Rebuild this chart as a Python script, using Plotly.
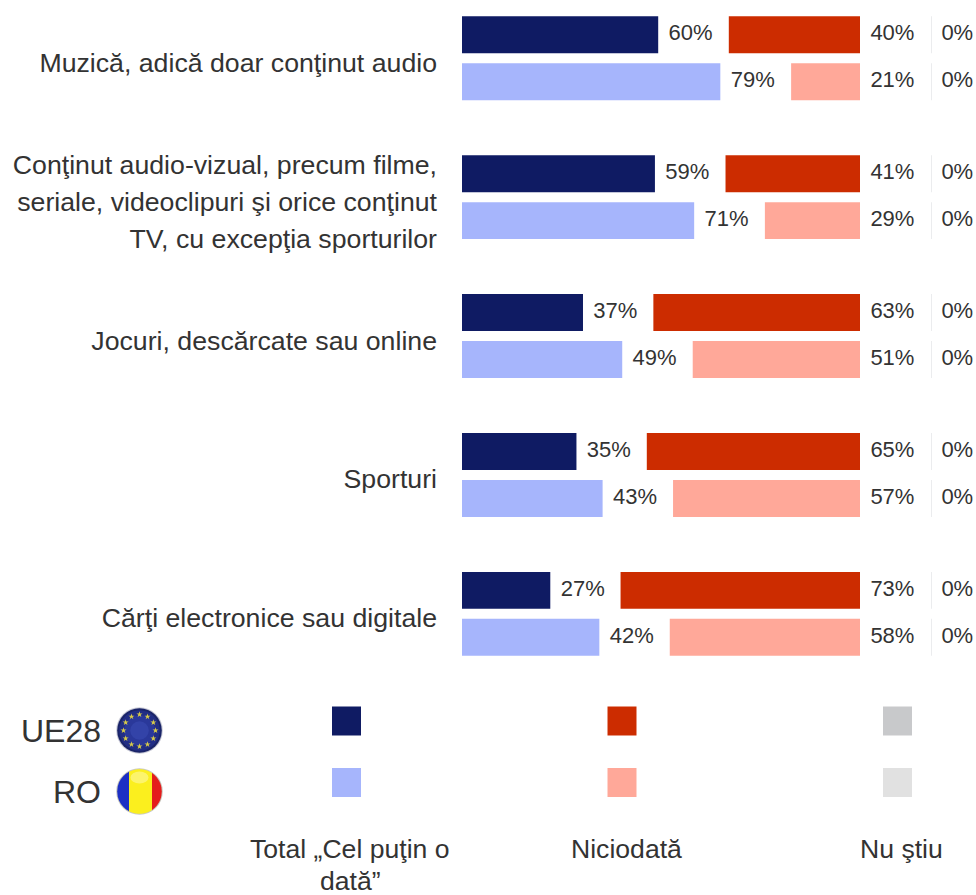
import math
import plotly.graph_objects as go

category_lines = [["Muzică, adică doar conţinut audio"],
                  ["Conţinut audio-vizual, precum filme,", "seriale, videoclipuri şi orice conţinut",
                   "TV, cu excepţia sporturilor"],
                  ["Jocuri, descărcate sau online"],
                  ["Sporturi"],
                  ["Cărţi electronice sau digitale"]]
ue_total = [60, 59, 37, 35, 27]
ro_total = [79, 71, 49, 43, 42]
ue_never = [40, 41, 63, 65, 73]
ro_never = [21, 29, 51, 57, 58]
ue_dk = [0, 0, 0, 0, 0]
ro_dk = [0, 0, 0, 0, 0]

W, H = 976, 895
FONT = "Liberation Sans"
TXT = "#333333"
C_UE, C_RO = "#0F1B63", "#A6B5FC"
R_UE, R_RO = "#CC2C00", "#FFA899"
G_UE, G_RO = "#C8C9CB", "#E1E1E1"
LINE = "#E4E6E8"
PCT_SIZE = 22
CAT_SIZE = 26.7
LEG_SIZE = 26.6

groups = list(range(len(category_lines)))
y_ue = [g - 0.169 for g in groups]
y_ro = [g + 0.169 for g in groups]
BW = 0.266
LINE_STEP = 37 / 138.9
pct = lambda v: [f"{x}%" for x in v]

tickvals, ticktext = [], []
for g, lines in zip(groups, category_lines):
    for i, t in enumerate(lines):
        tickvals.append(g + 0.03 + (i - (len(lines) - 1) / 2) * LINE_STEP)
        ticktext.append(t)

fig = go.Figure()


def bars(x, y, c, xaxis):
    fig.add_trace(go.Bar(x=x, y=y, orientation="h", width=BW, marker=dict(color=c, line=dict(width=0)),
                         xaxis=xaxis, yaxis="y", hoverinfo="skip"))


def labels(x_pos, vals, y, xaxis, **extra):
    # transparent marker pushes the text away from the bar end
    fig.add_trace(go.Scatter(x=x_pos, y=y, mode="markers+text", text=pct(vals), textposition="middle right",
                             cliponaxis=False, xaxis=xaxis, yaxis="y", hoverinfo="skip",
                             marker=dict(size=15, opacity=0, color="white"),
                             textfont=dict(family=FONT, size=PCT_SIZE, color=TXT), **extra))


bars(ue_total, y_ue, C_UE, "x")
bars(ro_total, y_ro, C_RO, "x")
bars(ue_never, y_ue, R_UE, "x2")
bars(ro_never, y_ro, R_RO, "x2")
labels(ue_total, ue_total, y_ue, "x")
labels(ro_total, ro_total, y_ro, "x")
labels([0] * 5, ue_never, y_ue, "x2")
labels([0] * 5, ro_never, y_ro, "x2")
whisker = dict(type="constant", value=BW / 2, color=LINE, thickness=1.5, width=0)
labels(ue_dk, ue_dk, y_ue, "x3", error_y=whisker)
labels(ro_dk, ro_dk, y_ro, "x3", error_y=whisker)

# EU flag stars, drawn in a full-page pixel axis
CX, CY1, CY2, R = 139.5, 730.5, 791.5, 23.3
star_x = [CX + 16 * math.cos(math.radians(a)) for a in range(0, 360, 30)]
star_y = [CY1 + 16 * math.sin(math.radians(a)) for a in range(0, 360, 30)]
fig.add_trace(go.Scatter(x=star_x, y=star_y, mode="markers", xaxis="x4", yaxis="y2", hoverinfo="skip",
                         marker=dict(symbol="star", size=4.5, color="#D8CB4A", line=dict(width=0))))

shapes = []


def pix(**k):
    return dict(xref="x4", yref="y2", layer="below", line=dict(width=0), **k)


for cx, cols in ((346.5, (C_UE, C_RO)), (622, (R_UE, R_RO)), (897.5, (G_UE, G_RO))):
    for cy, c in zip((721, 782.5), cols):
        shapes.append(pix(type="rect", x0=cx - 14.5, x1=cx + 14.5, y0=cy - 14.5, y1=cy + 14.5, fillcolor=c))

# EU disc
for r, c in ((R, "#C9CAD6"), (R - 1, "#1A2468"), (R - 3, "#222E85"), (R - 8, "#2A389A"), (R - 14, "#3343A8")):
    shapes.append(pix(type="circle", x0=CX - r, x1=CX + r, y0=CY1 - r, y1=CY1 + r, fillcolor=c))


def band(xa, xb, c, r):
    # circular-segment strip of the Romanian flag
    pts = []
    n = 24
    for i in range(n + 1):
        x = xa + (xb - xa) * i / n
        pts.append((x, CY2 - math.sqrt(max(r * r - (x - CX) ** 2, 0))))
    for i in range(n, -1, -1):
        x = xa + (xb - xa) * i / n
        pts.append((x, CY2 + math.sqrt(max(r * r - (x - CX) ** 2, 0))))
    d = "M" + " L".join(f"{a:.2f},{b:.2f}" for a, b in pts) + " Z"
    return pix(type="path", path=d, fillcolor=c)


shapes.append(pix(type="circle", x0=CX - R, x1=CX + R, y0=CY2 - R, y1=CY2 + R, fillcolor="#C9C9C0"))
r = R - 1
shapes.append(band(CX - r, 129, "#1C2FC4", r))
shapes.append(band(129, 152, "#FBEF1E", r))
shapes.append(band(152, CX + r, "#E41C1C", r))
shapes.append(pix(type="circle", x0=CX - 9, x1=CX + 9, y0=CY2 - 20, y1=CY2 - 8,
                  fillcolor="rgba(255,255,255,0.35)"))

ann = []


def label(x, y, t, size, anchor):
    ann.append(dict(x=x, y=y, xref="x4", yref="y2", text=t, showarrow=False, xanchor=anchor, yanchor="middle",
                    align="center", font=dict(family=FONT, size=size, color=TXT)))


label(103, 731, "UE28", 32, "right")
label(103, 792, "RO", 32, "right")
label(350, 849, "Total „Cel puţin o", LEG_SIZE, "center")
label(350, 881, "dată”", LEG_SIZE, "center")
label(626, 849, "Niciodată", LEG_SIZE, "center")
label(901, 849, "Nu ştiu", LEG_SIZE, "center")

px_per_unit = 138.9
top = -58.25 / px_per_unit
bottom = (660 - 58.25) / px_per_unit
bar_span = 328

fig.update_layout(
    width=W, height=H, margin=dict(l=0, r=0, t=0, b=0), paper_bgcolor="white", plot_bgcolor="rgba(0,0,0,0)",
    showlegend=False, barmode="overlay", shapes=shapes, annotations=ann,
    xaxis=dict(domain=[462 / W, (462 + 327) / W], range=[0, 100], visible=False, anchor="y"),
    xaxis2=dict(domain=[(860 - bar_span) / W, 860 / W], range=[100, 0], visible=False, anchor="y"),
    xaxis3=dict(domain=[931 / W, 975 / W], range=[0, 100], visible=False, anchor="y"),
    xaxis4=dict(domain=[0, 1], range=[0, W], visible=False, anchor="y2"),
    yaxis=dict(domain=[1 - 660 / H, 1], range=[bottom, top], tickmode="array", tickvals=tickvals, ticktext=ticktext,
               showgrid=False, zeroline=False, showline=False, ticks="", ticklabelstandoff=24,
               tickfont=dict(family=FONT, size=CAT_SIZE, color=TXT), anchor="x"),
    yaxis2=dict(domain=[0, 1], range=[H, 0], visible=False, anchor="x4"),
)
fig.write_html("out.html", post_script="document.body.style.margin='0';document.body.style.overflow='hidden';",
               config={"displayModeBar": False})
